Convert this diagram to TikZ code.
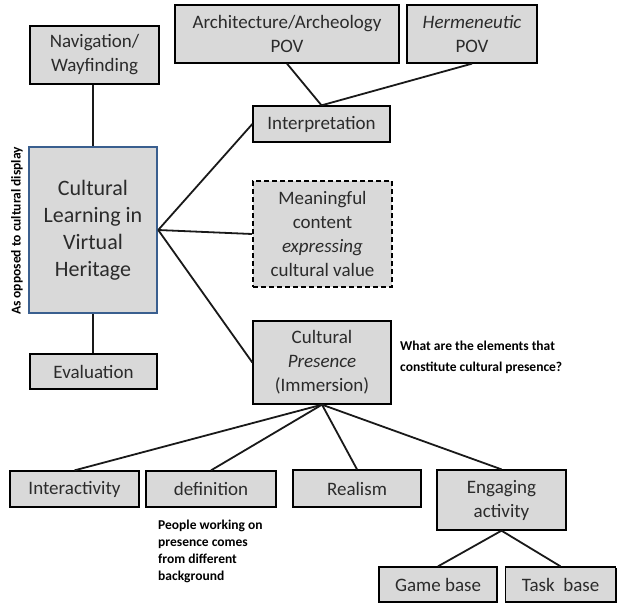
\documentclass[tikz,border=0pt]{standalone}
\usepackage{fontspec}
\setmainfont{Carlito}
\usetikzlibrary{shadows}
\definecolor{boxgray}{HTML}{D9D9D9}
\definecolor{txtgray}{HTML}{2B2B2B}
\definecolor{mainblue}{HTML}{3A5F8F}
\begin{document}
\begin{tikzpicture}[x=1pt,y=-1pt,
  base/.style={draw=black,fill=boxgray,line width=1.3pt,inner sep=0pt,align=center,
    text=txtgray,font=\fontsize{19}{24}\selectfont},
  sbox/.style={base,drop shadow={shadow xshift=1.3pt,shadow yshift=-1.3pt,fill=black,opacity=1}},
  conn/.style={line width=1.8pt,draw=black!90},
  note/.style={font=\fontsize{13.5}{21}\selectfont\bfseries,align=left,text=black,inner sep=0pt}]
\useasboundingbox (0,0) rectangle (617,603);

\node[sbox,minimum width=129,minimum height=58] (nav) at (94.5,55) {Navigation/\\Wayfinding};
\node[base,draw=mainblue,line width=2.4pt,minimum width=128,minimum height=166,
  font=\fontsize{22}{27}\selectfont] (main) at (93,230) {Cultural\\Learning in\\Virtual\\Heritage};
\node[sbox,minimum width=127,minimum height=35] (eval) at (93.5,371.5) {Evaluation};

\node[sbox,minimum width=224,minimum height=58] (arch) at (287,34) {Architecture/Archeology\\POV};
\node[sbox,minimum width=130,minimum height=58] (herm) at (472,34) {\textit{Hermeneutic}\\POV};
\node[sbox,minimum width=137,minimum height=36] (interp) at (321.5,124) {Interpretation};
\node[base,dashed,dash pattern=on 5pt off 3pt,line width=1.8pt,minimum width=139,minimum height=106] (mean) at (322.5,234)
  {Meaningful\\content\\\textit{expressing}\\cultural value};
\node[sbox,minimum width=138,minimum height=83] (cp) at (322,362.5) {Cultural\\\textit{Presence}\\(Immersion)};

\node[sbox,minimum width=129,minimum height=36] (inter) at (74.5,489) {Interactivity};
\node[sbox,minimum width=130,minimum height=36] (def) at (211,489) {definition};
\node[sbox,minimum width=128,minimum height=37] (real) at (357,488.5) {Realism};
\node[sbox,minimum width=129,minimum height=60] (eng) at (501.5,500) {Engaging\\activity};
\node[sbox,minimum width=118,minimum height=35] (game) at (438,584.5) {Game base};
\node[sbox,minimum width=110,minimum height=35] (task) at (560.5,584.5) {Task\ \ base};

\node[note,anchor=west] (q) at (400,357.5) {What are the elements that\\constitute cultural presence?};
\node[note,anchor=west,font=\fontsize{13.5}{17}\selectfont\bfseries] (people) at (158,551.5)
  {People working on\\presence comes\\from different\\background};
\node[note,rotate=90] (opp) at (17,231) {As opposed to cultural display};

\draw[conn] (main.north) -- (main.north |- nav.south);
\draw[conn] (main.south) -- (main.south |- eval.north);
\draw[conn] (main.east) -- (interp.west);
\draw[conn] (main.east) -- (mean.west);
\draw[conn] (main.east) -- (cp.west);
\draw[conn] (arch.south) -- (interp.north);
\draw[conn] (herm.south) -- (interp.north);
\draw[conn] (cp.south) -- (inter.north);
\draw[conn] (cp.south) -- (def.north);
\draw[conn] (cp.south) -- (real.north);
\draw[conn] (cp.south) -- (eng.north);
\draw[conn] (eng.south) -- (game.north);
\draw[conn] (eng.south) -- (task.north);
\end{tikzpicture}
\end{document}
